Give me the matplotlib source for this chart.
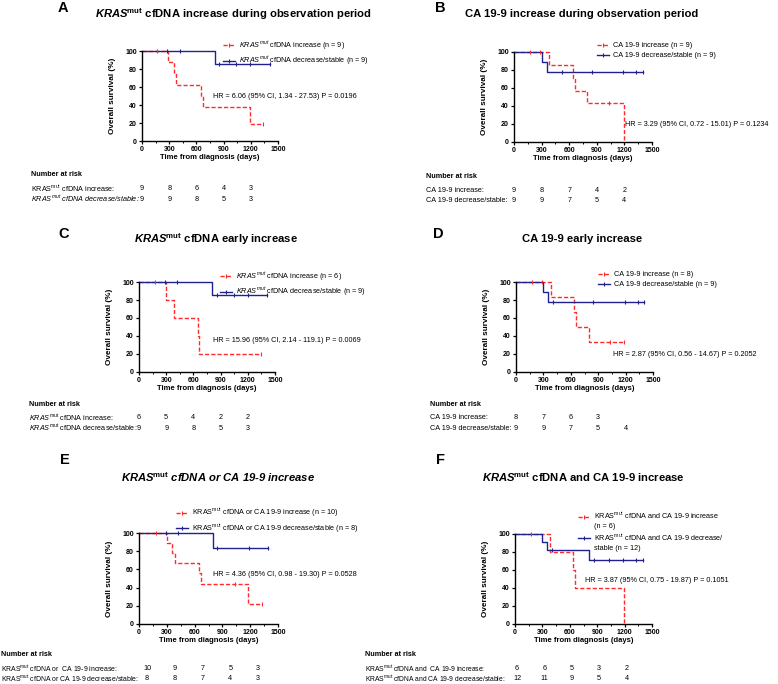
import numpy as np
import matplotlib
matplotlib.use('Agg')
import matplotlib.pyplot as plt
import matplotlib.transforms as mtransforms
from matplotlib.lines import Line2D
from matplotlib.ticker import MultipleLocator

plt.rcParams['font.family'] = ['Liberation Sans', 'DejaVu Sans']
plt.rcParams['mathtext.fontset'] = 'custom'
plt.rcParams['mathtext.rm'] = 'Liberation Sans'
plt.rcParams['mathtext.it'] = 'Liberation Sans:italic'
plt.rcParams['mathtext.bf'] = 'Liberation Sans:bold'
plt.rcParams['mathtext.bfit'] = 'Liberation Sans:italic:bold'
plt.rcParams['mathtext.sf'] = 'Liberation Sans'

RED = '#ff2a2a'
BLUE = '#20208f'

# %% Data (time in days, survival in %)
# Panel A
a_inc_t = [0, 290, 356, 375, 647, 669, 1190, 1337]
a_inc_s = [100, 87.5, 75, 62.5, 50, 37.5, 18.8, 18.8]
a_inc_ct = [165, 1337]
a_inc_cs = [100, 18.8]
a_dec_t = [0, 800, 1415]
a_dec_s = [100, 85.7, 85.7]
a_dec_ct = [280, 420, 850, 1040, 1190, 1415]
a_dec_cs = [100, 100, 85.7, 85.7, 85.7, 85.7]
a_risk_inc = ['9', '8', '6', '4', '3']
a_risk_dec = ['9', '9', '8', '5', '3']

# Panel B
b_inc_t = [0, 384, 645, 663, 797, 1196]
b_inc_s = [100, 85.7, 71.4, 57.1, 42.9, 0]
b_inc_ct = [174, 282, 1035]
b_inc_cs = [100, 100, 42.9]
b_dec_t = [0, 301, 355, 1400]
b_dec_s = [100, 88.9, 77.8, 77.8]
b_dec_ct = [518, 845, 1185, 1326, 1400]
b_dec_cs = [77.8, 77.8, 77.8, 77.8, 77.8]
b_risk_inc = ['9', '8', '7', '4', '2']
b_risk_dec = ['9', '9', '7', '5', '4']

# Panel C
c_inc_t = [0, 298, 390, 654, 665, 1345]
c_inc_s = [100, 80, 60, 40, 20, 20]
c_inc_ct = [176, 1345]
c_inc_cs = [100, 20]
c_dec_t = [0, 808, 1415]
c_dec_s = [100, 85.7, 85.7]
c_dec_ct = [287, 415, 855, 1050, 1198, 1415]
c_dec_cs = [100, 100, 85.7, 85.7, 85.7, 85.7]
c_risk_inc = ['6', '5', '4', '2', '2']
c_risk_dec = ['9', '9', '8', '5', '3']

# Panel D
d_inc_t = [0, 378, 640, 652, 800, 1185]
d_inc_s = [100, 83.3, 66.7, 50, 33.3, 33.3]
d_inc_ct = [172, 290, 1030, 1185]
d_inc_cs = [100, 100, 33.3, 33.3]
d_dec_t = [0, 292, 354, 1405]
d_dec_s = [100, 88.9, 77.8, 77.8]
d_dec_ct = [409, 847, 1194, 1333, 1405]
d_dec_cs = [77.8, 77.8, 77.8, 77.8, 77.8]
d_risk_inc = ['8', '7', '6', '3', '']
d_risk_dec = ['9', '9', '7', '5', '4']

# Panel E
e_inc_t = [0, 299, 360, 388, 647, 669, 1179, 1330]
e_inc_s = [100, 88.9, 77.8, 66.7, 55.6, 44.4, 22.2, 22.2]
e_inc_ct = [183, 1035, 1330]
e_inc_cs = [100, 44.4, 22.2]
e_dec_t = [0, 802, 1395]
e_dec_s = [100, 83.3, 83.3]
e_dec_ct = [291, 424, 845, 1187, 1395]
e_dec_cs = [100, 100, 83.3, 83.3, 83.3]
e_risk_inc = ['10', '9', '7', '5', '3']
e_risk_dec = ['8', '8', '7', '4', '3']

# Panel F
f_inc_t = [0, 383, 639, 657, 1197]
f_inc_s = [100, 80, 60, 40, 0]
f_inc_ct = [172]
f_inc_cs = [100]
f_dec_t = [0, 292, 347, 810, 1405]
f_dec_s = [100, 90.9, 81.8, 71.6, 71.6]
f_dec_ct = [402, 868, 1033, 1186, 1325, 1405]
f_dec_cs = [81.8, 71.6, 71.6, 71.6, 71.6, 71.6]
f_risk_inc = ['6', '6', '5', '3', '2']
f_risk_dec = ['12', '11', '9', '5', '4']

risk_days = [0, 300, 600, 900, 1200]

# %% Figure in pixel layout
W, H = 778, 684
fig = plt.figure(figsize=(W / 100, H / 100), dpi=100)


def fx(px):
    return px / W


def fy(py):
    return 1 - py / H


def make_axes(l, t, r, b):
    ax = fig.add_axes([fx(l), fy(b), (r - l) / W, (b - t) / H])
    ax.set_xlim(0, 1500)
    ax.set_ylim(0, 100)
    ax.xaxis.set_major_locator(MultipleLocator(300))
    ax.xaxis.set_minor_locator(MultipleLocator(150))
    ax.yaxis.set_major_locator(MultipleLocator(20))
    ax.spines['top'].set_visible(False)
    ax.spines['right'].set_visible(False)
    for sp in ['left', 'bottom']:
        ax.spines[sp].set_linewidth(1.0)
    ax.tick_params(which='major', length=2.2, width=0.9, labelsize=5, pad=1.5)
    ax.tick_params(which='minor', length=1.4, width=0.7)
    ax.tick_params(axis='y', which='minor', left=False)
    for lab in ax.get_xticklabels() + ax.get_yticklabels():
        lab.set_fontweight('bold')
    h_px = b - t
    w_px = r - l
    ax.set_xlabel('Time from diagnosis (days)', fontsize=5.5, fontweight='bold')
    ax.set_ylabel('Overall survival (%)', fontsize=5.9, fontweight='bold')
    ax.xaxis.set_label_coords(0.5, -13 / h_px)
    ax.yaxis.set_label_coords(-26 / w_px, 0.5)
    return ax


def km_line(ax, t, s, color, ls):
    if ls == '--':
        ax.step(t, s, where='post', color=color, lw=1.0, clip_on=False, dashes=(3, 1.5))
    else:
        ax.step(t, s, where='post', color=color, lw=1.0, clip_on=False)


def km_marks(ax, ct, cs, color):
    ax.plot(ct, cs, ls='none', marker='|', ms=3, mew=0.8, color=color, clip_on=False)


def panel(letter, lx, ly, title, tx, ty, rect, inc, dec, labels, leg_xy,
          hr, hr_xy, risk_xy, row_labels, risk_inc, risk_dec,
          title_style='normal', row_styles=('normal', 'normal'), risk_dx=0,
          risk_fs=5.2, two_line_legend=False):
    fig.text(fx(lx), fy(ly), letter, fontsize=10.5, fontweight='bold', va='center', ha='left')
    fig.text(fx(tx), fy(ty), title, fontsize=8.1, fontweight='bold', style=title_style,
             ha='center', va='center')
    ax = make_axes(*rect)
    km_line(ax, inc[0], inc[1], RED, '--')
    km_line(ax, dec[0], dec[1], BLUE, '-')
    km_marks(ax, inc[2], inc[3], RED)
    km_marks(ax, dec[2], dec[3], BLUE)
    h_red = Line2D([], [], color=RED, ls='--', dashes=(3, 1.5), lw=1.0, marker='|', ms=3, mew=0.8)
    h_blue = Line2D([], [], color=BLUE, ls='-', lw=1.0, marker='|', ms=3, mew=0.8)
    if two_line_legend:
        h_none = Line2D([], [], ls='none')
        handles = [h_red, h_none, h_blue, h_none]
        spacing = 0.28
    else:
        handles = [h_red, h_blue]
        spacing = 0.45
    ax.legend(handles, labels, loc='upper left', bbox_to_anchor=(fx(leg_xy[0]), fy(leg_xy[1])),
              bbox_transform=fig.transFigure, frameon=False, fontsize=5.2, handlelength=1.7,
              handletextpad=0.5, labelspacing=spacing, borderpad=0, borderaxespad=0)
    fig.text(fx(hr_xy[0]), fy(hr_xy[1]), hr, fontsize=5.2, ha='left', va='center')
    # number at risk table
    rx, ry = risk_xy
    fig.text(fx(rx), fy(ry), 'Number at risk', fontsize=5.2, fontweight='bold', va='center')
    trans = mtransforms.blended_transform_factory(ax.transData, fig.transFigure)
    offset = mtransforms.ScaledTranslation(risk_dx / 100, 0, fig.dpi_scale_trans)
    for k, (lab, vals) in enumerate(zip(row_labels, [risk_inc, risk_dec])):
        yy = ry + 13.5 + k * 10.5
        fig.text(fx(rx), fy(yy), lab, fontsize=risk_fs, style=row_styles[k], va='center')
        for d, v in zip(risk_days, vals):
            ax.text(d, fy(yy), v, transform=trans + offset, fontsize=5.2, ha='center', va='center')
    return ax


kras_it = r'$\it{KRAS}^{\it{mut}}$'
kras_itm = r'$\it{KRAS}^{\rm{mut}}$'
kras_rm = r'KRAS$^{\rm{mut}}$'
kras_bf = r'$\mathbfit{KRAS}^{\mathbf{mut}}$'

panel('A', 58, 8, kras_bf + ' cfDNA increase during observation period', 233, 14,
      (142, 51, 278, 141),
      (a_inc_t, a_inc_s, a_inc_ct, a_inc_cs), (a_dec_t, a_dec_s, a_dec_ct, a_dec_cs),
      [kras_it + ' cfDNA increase (n = 9)', kras_it + ' cfDNA decrease/stable (n = 9)'],
      (223, 39), 'HR = 6.06 (95% CI, 1.34 - 27.53) P = 0.0196', (213, 96),
      (31, 175), [kras_rm + ' cfDNA increase:', kras_it + ' cfDNA decrease/stable:'],
      a_risk_inc, a_risk_dec, row_styles=('normal', 'italic'))

panel('B', 435, 8, 'CA 19-9 increase during observation period', 582, 14,
      (514, 52, 652, 142),
      (b_inc_t, b_inc_s, b_inc_ct, b_inc_cs), (b_dec_t, b_dec_s, b_dec_ct, b_dec_cs),
      ['CA 19-9 increase (n = 9)', 'CA 19-9 decrease/stable (n = 9)'],
      (597, 42), 'HR = 3.29 (95% CI, 0.72 - 15.01) P = 0.1234', (625, 124),
      (426, 177), ['CA 19-9 increase:', 'CA 19-9 decrease/stable:'],
      b_risk_inc, b_risk_dec)

panel('C', 58, 234, kras_bf + ' cfDNA early increase', 216, 239,
      (139, 282, 275, 372),
      (c_inc_t, c_inc_s, c_inc_ct, c_inc_cs), (c_dec_t, c_dec_s, c_dec_ct, c_dec_cs),
      [kras_it + ' cfDNA increase (n = 6)', kras_it + ' cfDNA decrease/stable (n = 9)'],
      (220, 270), 'HR = 15.96 (95% CI, 2.14 - 119.1) P = 0.0069', (213, 341),
      (29, 404), [kras_itm + ' cfDNA increase:', kras_itm + ' cfDNA decrease/stable:'],
      c_risk_inc, c_risk_dec)

panel('D', 433, 234, 'CA 19-9 early increase', 582, 239,
      (516, 282, 653, 372),
      (d_inc_t, d_inc_s, d_inc_ct, d_inc_cs), (d_dec_t, d_dec_s, d_dec_ct, d_dec_cs),
      ['CA 19-9 increase (n = 8)', 'CA 19-9 decrease/stable (n = 9)'],
      (598, 271), 'HR = 2.87 (95% CI, 0.56 - 14.67) P = 0.2052', (613, 355),
      (430, 404), ['CA 19-9 increase:', 'CA 19-9 decrease/stable:'],
      d_risk_inc, d_risk_dec)

panel('E', 60, 460, kras_bf + ' cfDNA or CA 19-9 increase', 218, 477,
      (139, 533, 278, 624),
      (e_inc_t, e_inc_s, e_inc_ct, e_inc_cs), (e_dec_t, e_dec_s, e_dec_ct, e_dec_cs),
      [kras_rm + ' cfDNA or CA 19-9 increase (n = 10)',
       kras_rm + ' cfDNA or CA 19-9 decrease/stable (n = 8)'],
      (176, 507), 'HR = 4.36 (95% CI, 0.98 - 19.30) P = 0.0528', (213, 574),
      (1, 655), [kras_rm + ' cfDNA or  CA 19-9 increase:',
                 kras_rm + ' cfDNA or CA 19-9 decrease/stable:'],
      e_risk_inc, e_risk_dec, title_style='italic', risk_dx=8, risk_fs=4.95)

panel('F', 436, 460, kras_bf + ' cfDNA and CA 19-9 increase', 583, 477,
      (515, 534, 652, 624),
      (f_inc_t, f_inc_s, f_inc_ct, f_inc_cs), (f_dec_t, f_dec_s, f_dec_ct, f_dec_cs),
      [kras_rm + ' cfDNA and CA 19-9 increase', '(n = 6)',
       kras_rm + ' cfDNA and CA 19-9 decrease/', 'stable (n = 12)'],
      (578, 511), 'HR = 3.87 (95% CI, 0.75 - 19.87) P = 0.1051', (585, 580),
      (365, 655), [kras_rm + ' cfDNA and  CA 19-9 increase:',
                   kras_rm + ' cfDNA and CA 19-9 decrease/stable:'],
      f_risk_inc, f_risk_dec, risk_dx=2, risk_fs=4.85, two_line_legend=True)

fig.savefig('out.png', dpi=100)
